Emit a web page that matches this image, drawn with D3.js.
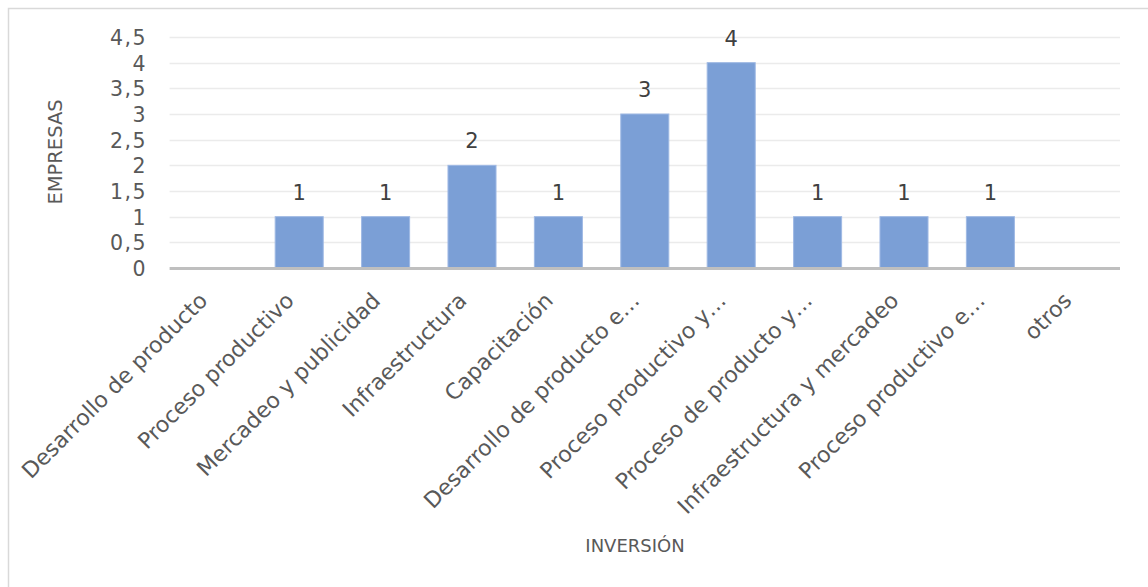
<!DOCTYPE html>
<html>
<head>
<meta charset="utf-8">
<script src="https://cdn.jsdelivr.net/npm/d3@7"></script>
<style>
  html, body { margin: 0; padding: 0; background: #fff; }
  svg { display: block; }
</style>
</head>
<body>
<svg id="chart" width="1148" height="587"></svg>
<script>
// Investment categories and number of companies in each
const categories = [
  "Desarrollo de producto",
  "Proceso productivo",
  "Mercadeo y publicidad",
  "Infraestructura",
  "Capacitación",
  "Desarrollo de producto e…",
  "Proceso productivo y…",
  "Proceso de producto y…",
  "Infraestructura y mercadeo",
  "Proceso productivo e…",
  "otros"
];
const empresas = [0, 1, 1, 2, 1, 3, 4, 1, 1, 1, 0];
const yTicks = [0, 0.5, 1, 1.5, 2, 2.5, 3, 3.5, 4, 4.5];
const yTitle = "EMPRESAS";
const xTitle = "INVERSIÓN";

const font = "'DejaVu Sans', sans-serif";
const svg = d3.select("#chart");

// Chart frame (only top and left edges fall inside the page)
svg.append("rect")
  .attr("x", 8.5).attr("y", 8.5)
  .attr("width", 1200).attr("height", 700)
  .attr("fill", "none").attr("stroke", "#d9d9d9").attr("stroke-width", 1.5);

const plot = { left: 169.6, right: 1120, top: 37, bottom: 268 };

const x = d3.scaleBand()
  .domain(categories)
  .range([plot.left, plot.right])
  .paddingInner(0.444)
  .paddingOuter(0.222);

const y = d3.scaleLinear()
  .domain([0, 4.5])
  .range([plot.bottom, plot.top]);

// Horizontal gridlines
svg.append("g")
  .selectAll("line")
  .data(yTicks.filter(d => d > 0))
  .join("line")
  .attr("x1", plot.left).attr("x2", plot.right)
  .attr("y1", d => Math.round(y(d)) + 0.5)
  .attr("y2", d => Math.round(y(d)) + 0.5)
  .attr("stroke", "#ebebeb").attr("stroke-width", 1.5);

// Y axis tick labels
const fmt = d => String(d).replace(".", ",");
const yAxis = d3.axisLeft(y).tickValues(yTicks).tickFormat(fmt).tickSize(0).tickPadding(0);
const gy = svg.append("g")
  .attr("transform", `translate(${147},0)`)
  .call(yAxis);
gy.select(".domain").remove();
gy.selectAll("text")
  .attr("font-family", font)
  .attr("font-size", 20.5)
  .attr("letter-spacing", "1.5px")
  .attr("fill", "#595959")
  .attr("dy", "0.36em");

// Bars
svg.append("g")
  .selectAll("rect")
  .data(categories.map((c, i) => ({ c, v: empresas[i] })).filter(d => d.v > 0))
  .join("rect")
  .attr("x", d => x(d.c))
  .attr("y", d => y(d.v))
  .attr("width", x.bandwidth())
  .attr("height", d => y(0) - y(d.v))
  .attr("fill", "#7b9fd6")
  .attr("stroke", "#9fb9e4")
  .attr("stroke-width", 1);

// Category axis line
svg.append("line")
  .attr("x1", plot.left).attr("x2", plot.right)
  .attr("y1", plot.bottom + 0.5).attr("y2", plot.bottom + 0.5)
  .attr("stroke", "#bfbfbf").attr("stroke-width", 3);

// Value labels above bars
svg.append("g")
  .selectAll("text")
  .data(categories.map((c, i) => ({ c, v: empresas[i] })).filter(d => d.v > 0))
  .join("text")
  .attr("x", d => x(d.c) + x.bandwidth() / 2)
  .attr("y", d => y(d.v) - 17)
  .attr("text-anchor", "middle")
  .attr("font-family", font)
  .attr("font-size", 21)
  .attr("fill", "#404040")
  .text(d => d.v);

// Rotated category labels
const xAxis = d3.axisBottom(x).tickSize(0).tickPadding(0);
const gx = svg.append("g")
  .attr("transform", `translate(0,${plot.bottom})`)
  .call(xAxis);
gx.select(".domain").remove();
gx.selectAll(".tick text")
  .attr("font-family", font)
  .attr("font-size", 22)
  .attr("fill", "#595959")
  .attr("text-anchor", "end")
  .attr("dy", 0)
  .attr("y", 0)
  .attr("transform", "translate(-4,34) rotate(-45)");

// Axis titles
svg.append("text")
  .attr("transform", "translate(62,152) rotate(-90)")
  .attr("text-anchor", "middle")
  .attr("font-family", font)
  .attr("font-size", 19.5)
  .attr("fill", "#595959")
  .text(yTitle);

svg.append("text")
  .attr("x", 635)
  .attr("y", 552)
  .attr("text-anchor", "middle")
  .attr("font-family", font)
  .attr("font-size", 18)
  .attr("fill", "#595959")
  .text(xTitle);
</script>
</body>
</html>
